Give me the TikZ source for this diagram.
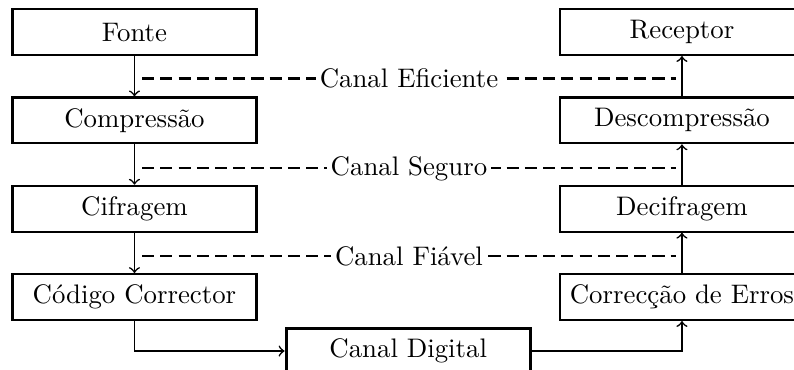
\documentclass[tikz,border=0pt]{standalone}
\usepackage{fontspec}
\usetikzlibrary{arrows,positioning,calc}

\begin{document}
\begin{tikzpicture}[node distance=0.53cm,
    bloco/.style={rectangle, draw, thick, minimum width=3.2cm, minimum height=0.6cm, align=center},
    canaldash/.style={dash pattern=on 4.5pt off 2.3pt, thick},
    seta/.style={->, semithick}]
    \useasboundingbox (0,0) rectangle (10.41,-4.838);

    % emissor
    \node[bloco] (fonte) at (1.763,-0.42) {Fonte};
    \node[bloco, below=of fonte] (compressao) {Compressão};
    \node[bloco, below=of compressao] (cifragem) {Cifragem};
    \node[bloco, below=of cifragem] (codigo) {Código Corrector};

    % receptor
    \node[bloco, right=3.95cm of fonte] (receptor) {Receptor};
    \node[bloco, below=of receptor] (descompressao) {Descompressão};
    \node[bloco, below=of descompressao] (decifragem) {Decifragem};
    \node[bloco, below=of decifragem] (correccao) {Correcção de Erros};

    \node[bloco, very thick] (canal) at ($(codigo)!0.5!(correccao)+(0,-0.708)$) {Canal Digital};

    \draw[seta] (fonte) -- (compressao);
    \draw[seta] (compressao) -- (cifragem);
    \draw[seta] (cifragem) -- (codigo);
    \draw[seta] (codigo.south) |- (canal.west);
    \draw[seta] (canal.east) -| (correccao.south);
    \draw[seta] (correccao) -- (decifragem);
    \draw[seta] (decifragem) -- (descompressao);
    \draw[seta] (descompressao) -- (receptor);

    % canais logicos
    \coordinate (e1) at ($(fonte.south)!0.5!(compressao.north)+(0.1,-0.03)$);
    \coordinate (e2) at ($(receptor.south)!0.5!(descompressao.north)+(-0.08,-0.03)$);
    \coordinate (s1) at ($(compressao.south)!0.5!(cifragem.north)+(0.1,-0.05)$);
    \coordinate (s2) at ($(descompressao.south)!0.5!(decifragem.north)+(-0.08,-0.05)$);
    \coordinate (f1) at ($(cifragem.south)!0.5!(codigo.north)+(0.1,-0.04)$);
    \coordinate (f2) at ($(decifragem.south)!0.5!(correccao.north)+(-0.08,-0.04)$);

    \draw[canaldash] (e1) -- node[fill=white, inner sep=1.5pt] (eficiente) {Canal Eficiente} (e2);
    \draw[canaldash] (s1) -- node[fill=white, inner sep=1.5pt] (seguro) {Canal Seguro} (s2);
    \draw[canaldash] (f1) -- node[fill=white, inner sep=1.5pt] (fiavel) {Canal Fiável} (f2);
\end{tikzpicture}
\end{document}
